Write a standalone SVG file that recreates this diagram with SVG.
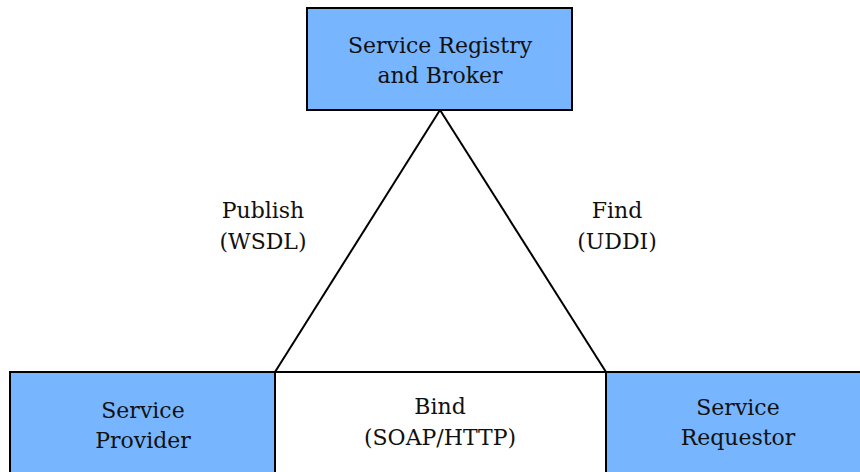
<svg xmlns="http://www.w3.org/2000/svg" width="860" height="472" viewBox="0 0 860 472">
<style>
.box{fill:#77b5fe;stroke:#000;stroke-width:2}
.ln{stroke:#000;stroke-width:2;fill:none}
.t{font-family:'DejaVu Serif','Liberation Serif',serif;font-size:22px;fill:#111;text-anchor:middle}
</style>
<rect width="860" height="472" fill="#fff"/>
<g id="connectors">
<path class="ln" d="M440,110 L275,372"/>
<path class="ln" d="M440,110 L606,372"/>
<path class="ln" d="M275,372 L606,372"/>
<text class="t" x="263" y="218">Publish</text>
<text class="t" x="263" y="249">(WSDL)</text>
<text class="t" x="617" y="218">Find</text>
<text class="t" x="617" y="249">(UDDI)</text>
<text class="t" x="440" y="414">Bind</text>
<text class="t" x="440" y="445">(SOAP/HTTP)</text>
</g>
<g id="registry">
<rect class="box" x="307" y="8" width="265" height="102"/>
<text class="t" x="440" y="53">Service Registry</text>
<text class="t" x="440" y="83">and Broker</text>
</g>
<g id="provider">
<rect class="box" x="10" y="372" width="265" height="110"/>
<text class="t" x="143" y="418">Service</text>
<text class="t" x="143" y="448">Provider</text>
</g>
<g id="requestor">
<rect class="box" x="606" y="372" width="270" height="110"/>
<text class="t" x="738" y="415">Service</text>
<text class="t" x="738" y="445">Requestor</text>
</g>
</svg>
